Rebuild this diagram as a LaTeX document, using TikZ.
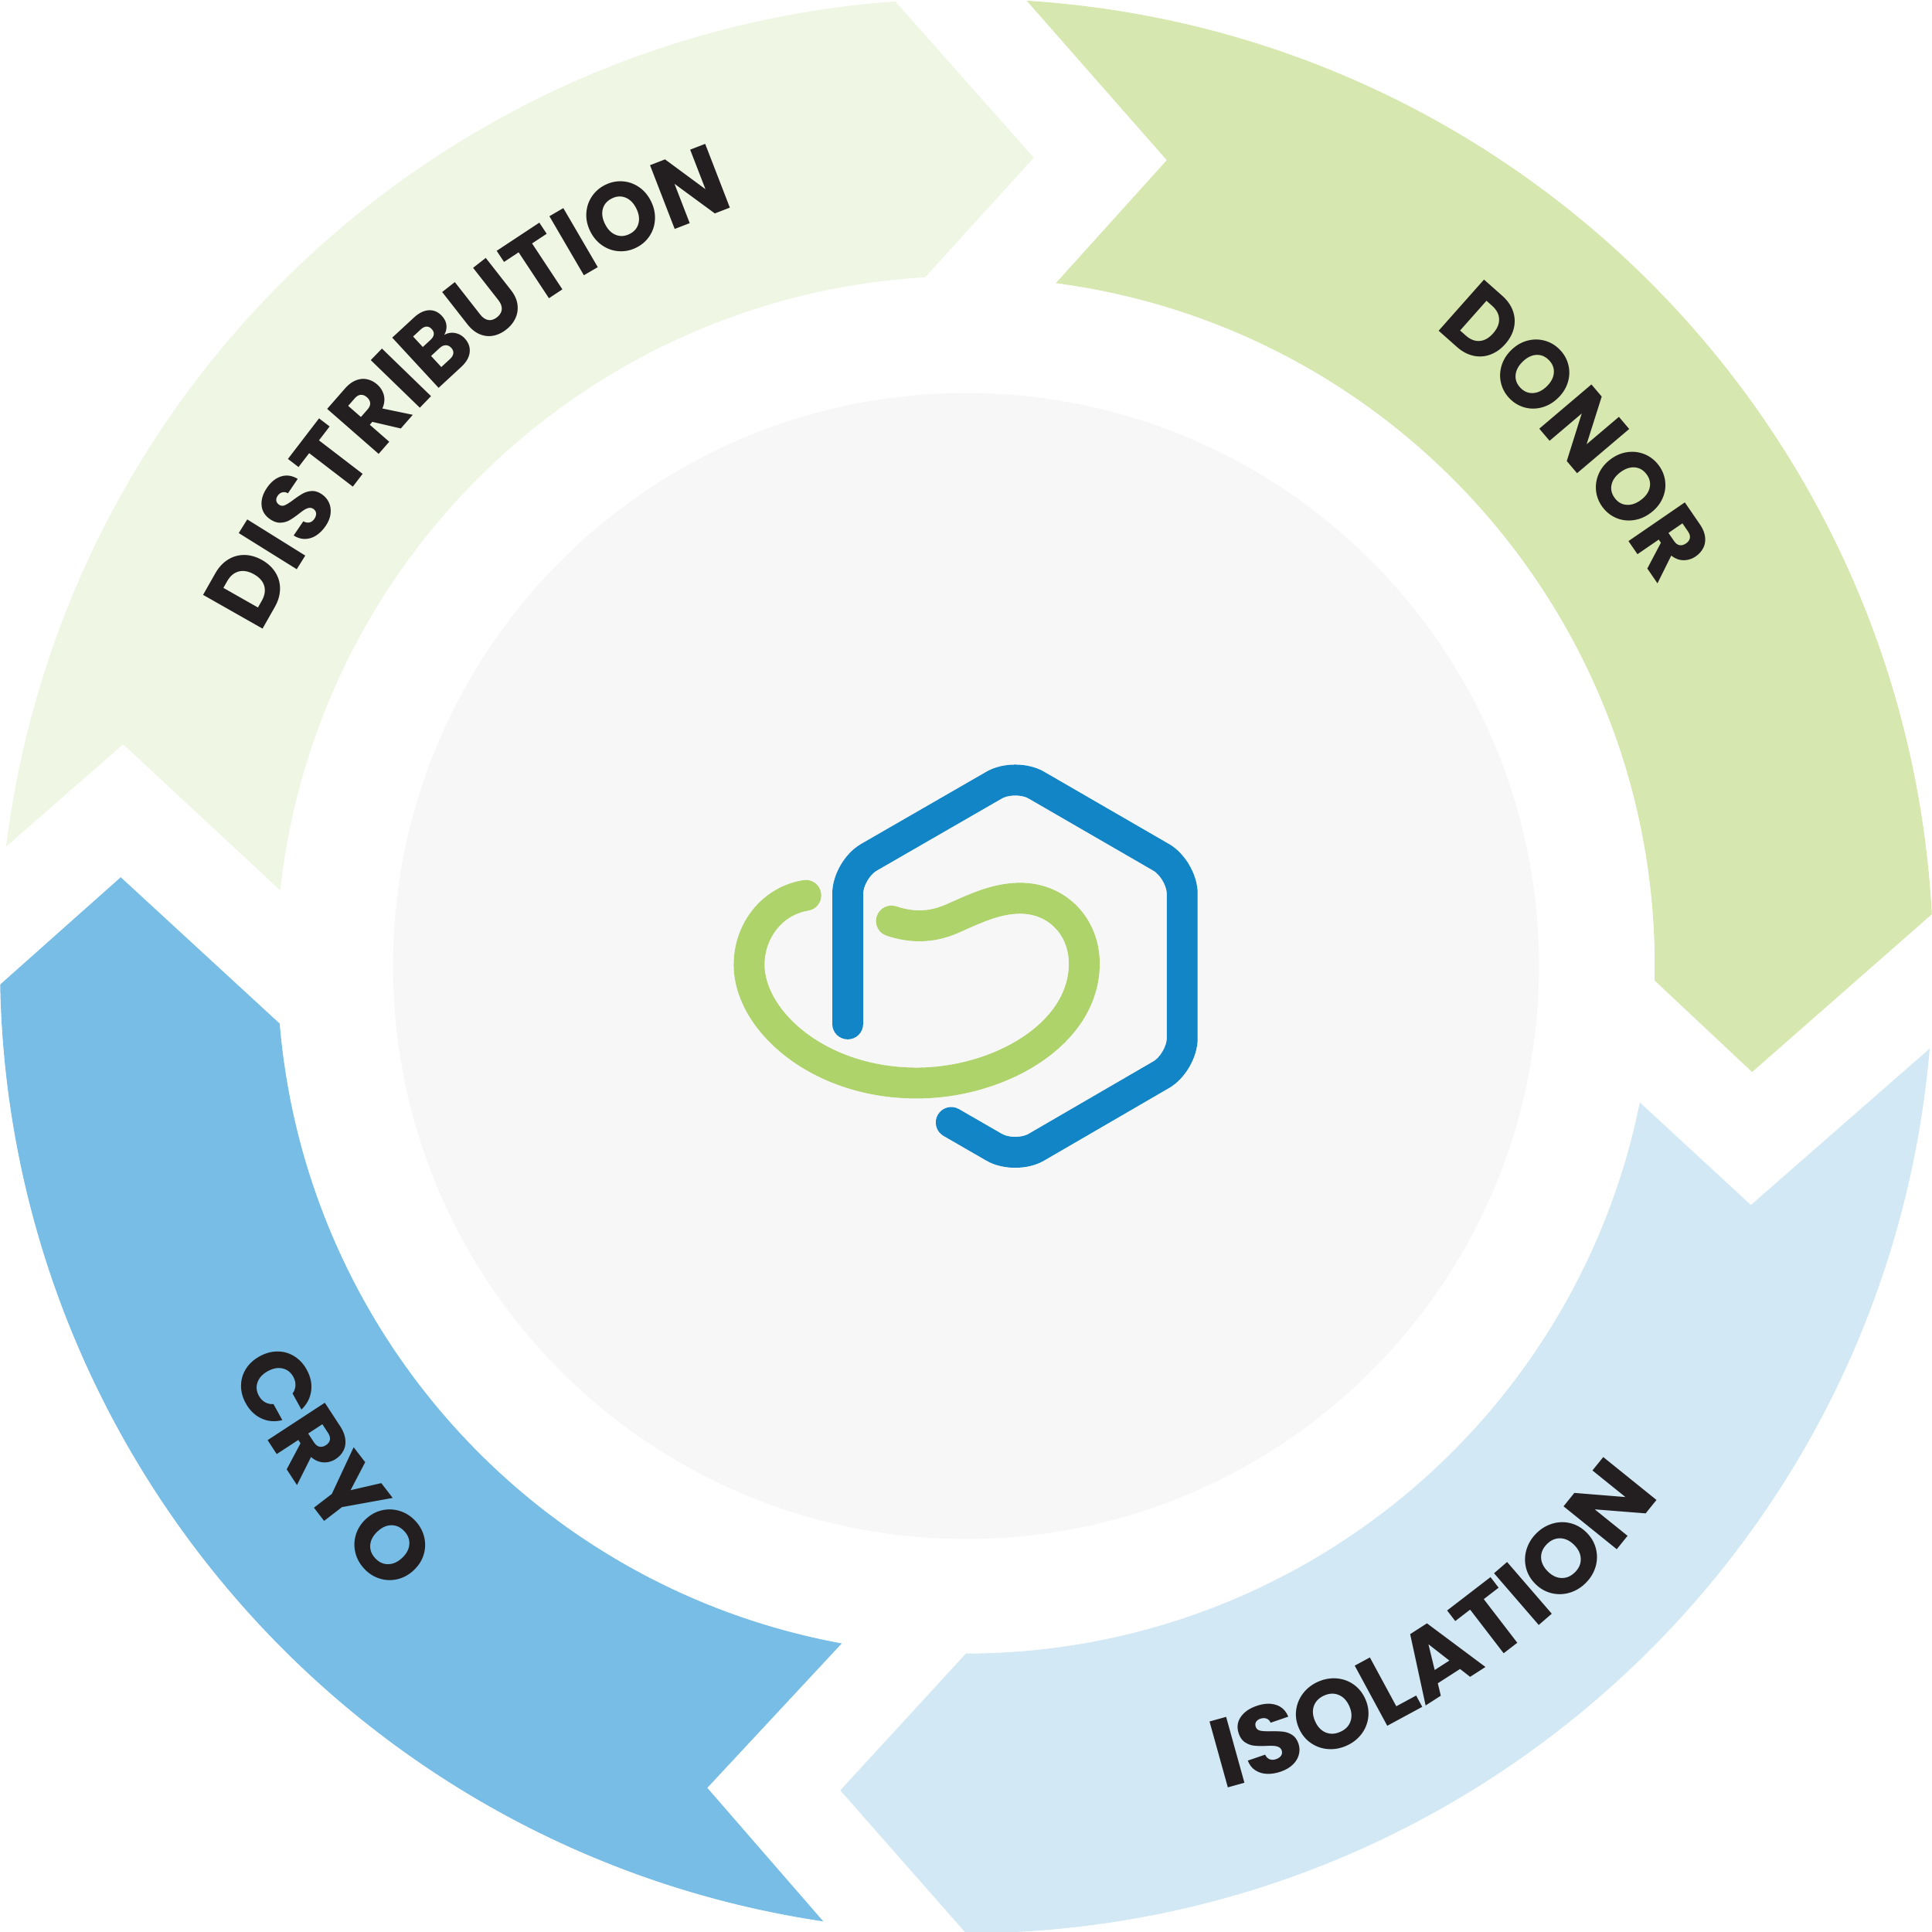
\documentclass[tikz,border=0pt]{standalone}
\usepackage{fontspec}
\usetikzlibrary{decorations.text}
\newfontfamily\ringfamily{Poppins}
\newcommand{\ringfont}[1]{\ringfamily\bfseries\fontsize{36}{36}\selectfont\addfontfeature{FakeStretch=#1}}
\definecolor{donorgreen}{HTML}{D6E7B0}
\definecolor{isolationblue}{HTML}{D2E9F5}
\definecolor{cryoblue}{HTML}{78BDE5}
\definecolor{distgreen}{HTML}{EFF6E4}
\definecolor{coregrey}{HTML}{F7F7F7}
\definecolor{logoblue}{HTML}{1285C7}
\definecolor{logogreen}{HTML}{AFD36B}
\definecolor{ink}{HTML}{231F20}
\tikzset{strand/.style={line width=0.4cm, line cap=round}, ringlabel/.style 2 args={decorate, decoration={text along path, text align=left, text color=ink, text={|\ringfont{#2}|#1}}}}

\begin{document}
\begin{tikzpicture}[x=0.016cm,y=0.016cm]
    \useasboundingbox (-784,-784) rectangle (784,784);

    \fill[distgreen]     (172.9:785) arc[start angle=172.9,end angle=94.2,radius=785] -- (55,656) -- (93.4:560) arc[start angle=93.4,end angle=173.7,radius=560] -- (-684,180) -- cycle;
    \fill[donorgreen]    (86.4:785) arc[start angle=86.4,end angle=3.07,radius=785] -- (638,-86) -- (-1.2:559) arc[start angle=-1.2,end angle=82.5,radius=559] -- (163,654) -- cycle;
    \fill[isolationblue] (-4.9:785) arc[start angle=-4.9,end angle=-90,radius=785] -- (-102,-669) -- (-90:558) arc[start angle=-90,end angle=-11.45,radius=558] -- (637,-194) -- cycle;
    \fill[cryoblue]      (261.5:784) arc[start angle=261.5,end angle=181.1,radius=784] -- (-686,72) -- (184.8:559) arc[start angle=184.8,end angle=259.6,radius=559] -- (-210,-667) -- cycle;

    \fill[coregrey] (0,0) circle[radius=465];

    \path[ringlabel={DISTRIBUTION}{0.967}] (-572.5,269.5) .. controls (-485,434) and (-365,554) .. (-194,614) -- (-99,647);
    \path[ringlabel={DONOR}{0.955}]        (380,518) .. controls (453,458) and (510,387) .. (560,312) -- (615,229);
    \path[ringlabel={CRYO}{1}]             (-598,-328) .. controls (-564,-395) and (-521,-458) .. (-467,-510) -- (-395,-579);
    \path[ringlabel={ISOLATION}{1.035}]    (208,-668) .. controls (348,-632) and (477,-547) .. (560,-434) -- (619,-353);

    \draw[strand,logoblue,rounded corners=9pt] (-96,-47) -- (-96,78.3) -- (40,156.7) -- (175.5,78.3) -- (175.5,-78.3) -- (40,-157) -- (-12,-127);
    \draw[strand,logogreen] (-130,57.3) .. controls (-157,53) and (-176,29) .. (-176,1)
        .. controls (-176,-44) and (-120,-95) .. (-40,-95)
        .. controls (26,-95) and (96,-56) .. (96,2)
        .. controls (96,32) and (74,55) .. (44,55)
        .. controls (24,55) and (6,46) .. (-11,38.5)
        .. controls (-28,31) and (-44,31) .. (-60.5,36.5);
\end{tikzpicture}
\end{document}
